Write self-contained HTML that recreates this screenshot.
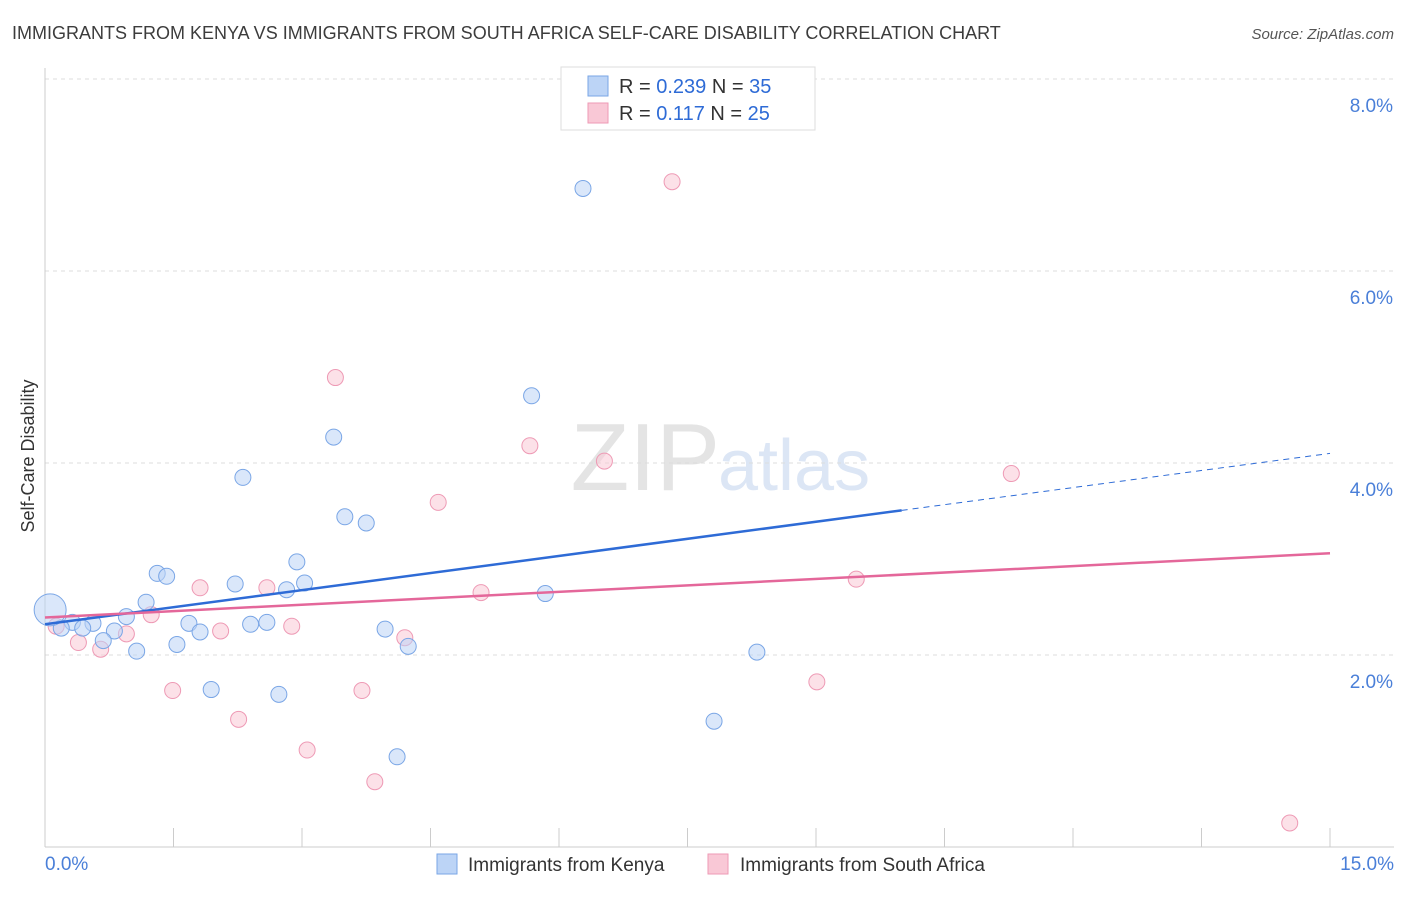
<!DOCTYPE html>
<html><head><meta charset="utf-8"><style>
body{margin:0;background:#fff;font-family:"Liberation Sans",sans-serif}
svg text{font-family:"Liberation Sans",sans-serif}
</style></head><body>
<svg width="1406" height="892" xmlns="http://www.w3.org/2000/svg">
<text x="12" y="39" font-size="18" fill="#3c3c3c">IMMIGRANTS FROM KENYA VS IMMIGRANTS FROM SOUTH AFRICA SELF-CARE DISABILITY CORRELATION CHART</text>
<text x="1394" y="39" font-size="15" fill="#555" font-style="italic" text-anchor="end">Source: ZipAtlas.com</text>
<text x="720" y="490" font-size="96" fill="#e4e4e4" text-anchor="end" font-family="Liberation Serif">ZIP</text>
<text x="718" y="490" font-size="72" fill="#dce6f5">atlas</text>
<g id="grid"></g>
<g id="axes"></g>
<g id="marks"></g>
<text transform="translate(34,456) rotate(-90)" font-size="18" fill="#333" text-anchor="middle">Self-Care Disability</text>
<g>
<rect x="561" y="67" width="254" height="63" fill="#fff" stroke="#ddd"/>
<rect x="588" y="76" width="20" height="20" fill="#bcd4f6" stroke="#7aa6e6"/>
<text x="619" y="93" font-size="20" fill="#333">R = <tspan fill="#2e6bd6">0.239</tspan>   N = <tspan fill="#2e6bd6">35</tspan></text>
<rect x="588" y="103" width="20" height="20" fill="#f9c8d6" stroke="#ee9ab5"/>
<text x="619" y="120" font-size="20" fill="#333">R =  <tspan fill="#2e6bd6">0.117</tspan>   N = <tspan fill="#2e6bd6">25</tspan></text>
</g>
<g>
<rect x="437" y="854" width="20" height="20" fill="#bcd4f6" stroke="#7aa6e6"/>
<text x="468" y="871" font-size="19" fill="#333">Immigrants from Kenya</text>
<rect x="708" y="854" width="20" height="20" fill="#f9c8d6" stroke="#ee9ab5"/>
<text x="740" y="871" font-size="19" fill="#333">Immigrants from South Africa</text>
</g>
</svg>
<script>
const kenyaX=[6.28,5.68,3.37,2.31,3.50,3.75,2.94,1.31,1.42,2.22,3.03,2.82,5.84,1.18,0.95,0.32,0.56,1.68,2.40,2.59,0.19,0.44,0.81,1.81,3.97,0.68,1.54,4.24,1.07,8.31,1.94,2.73,7.81,4.11,0.06];
const kenyaY=[6.86,4.70,4.27,3.85,3.44,3.375,2.97,2.85,2.82,2.74,2.75,2.68,2.64,2.55,2.40,2.34,2.33,2.33,2.32,2.34,2.28,2.28,2.25,2.24,2.27,2.15,2.11,2.09,2.04,2.03,1.64,1.59,1.31,0.94,2.47];
const saX=[7.32,3.39,5.66,6.53,4.59,11.28,9.47,1.81,2.59,5.09,1.24,0.95,2.05,2.88,4.20,0.39,0.65,0.13,1.49,3.70,9.01,2.26,3.06,3.85,14.53];
const saY=[6.93,4.89,4.18,4.02,3.59,3.89,2.79,2.70,2.70,2.65,2.42,2.22,2.25,2.30,2.18,2.13,2.06,2.30,1.63,1.63,1.72,1.33,1.01,0.68,0.25];
const kenyaTrend=[2.32,4.10];
const saTrend=[2.39,3.06];
const yTicks=[2,4,6,8];
const xTickLabels=["0.0%","15.0%"];
const NS="http://www.w3.org/2000/svg";
const sx=v=>45+v*(1330-45)/15;
const sy=v=>847-v*96;
function mk(tag,attrs,parent){const e=document.createElementNS(NS,tag);for(const k in attrs)e.setAttribute(k,attrs[k]);document.getElementById(parent).appendChild(e);return e;}
yTicks.forEach(t=>{
 const l=mk('line',{x1:45,x2:1394,y1:sy(t),y2:sy(t),stroke:'#ddd','stroke-dasharray':'4,4'},'grid');
 
 
 const tx=mk('text',{x:1393,y:sy(t)+33,'font-size':19,fill:'#4a7fd8','text-anchor':'end'},'grid');
 tx.textContent=t.toFixed(1)+'%';
 
 
});
const tl=mk('line',{x1:45,x2:1394,y1:79,y2:79,stroke:'#ddd','stroke-dasharray':'4,4'},'grid');


const ya=mk('line',{x1:45,x2:45,y1:68,y2:847,stroke:'#ccc'},'axes');


const xa=mk('line',{x1:45,x2:1394,y1:847,y2:847,stroke:'#ccc'},'axes');


for(let i=0;i<=10;i++){
 const v=i*1.5;
 const t=mk('line',{x1:sx(v),x2:sx(v),y1:828,y2:847,stroke:'#ccc'},'axes');
 
 
}
[[0,'start',45],[15,'end',1394]].forEach((d,i)=>{
 const tx=mk('text',{x:d[2],y:870,'font-size':19,fill:'#4a7fd8','text-anchor':d[1]},'axes');
 tx.textContent=xTickLabels[i];
 
 
});
function dots(xs,ys,fill,stroke,name){
 xs.forEach((x,i)=>{
  const r=(name==='kenya-point'&&i===xs.length-1)?16:8;
  const c=mk('circle',{cx:sx(x),cy:sy(ys[i]),r:r,fill:fill,'fill-opacity':0.55,stroke:stroke,'stroke-width':1},'marks');
  
  
 });
}
dots(saX,saY,'#f9c8d6','#ee9ab5','south-africa-point');
dots(kenyaX,kenyaY,'#bcd4f6','#7aa6e6','kenya-point');
const kAt=x=>kenyaTrend[0]+(kenyaTrend[1]-kenyaTrend[0])*x/15;
const k1=mk('line',{x1:sx(0),y1:sy(kAt(0)),x2:sx(10),y2:sy(kAt(10)),stroke:'#2e6bd6','stroke-width':2.5},'marks');


const k2=mk('line',{x1:sx(10),y1:sy(kAt(10)),x2:sx(15),y2:sy(kAt(15)),stroke:'#2e6bd6','stroke-width':1,'stroke-dasharray':'6,5'},'marks');


const s1=mk('line',{x1:sx(0),y1:sy(saTrend[0]),x2:sx(15),y2:sy(saTrend[1]),stroke:'#e4679a','stroke-width':2.5},'marks');


</script>
</body></html>
